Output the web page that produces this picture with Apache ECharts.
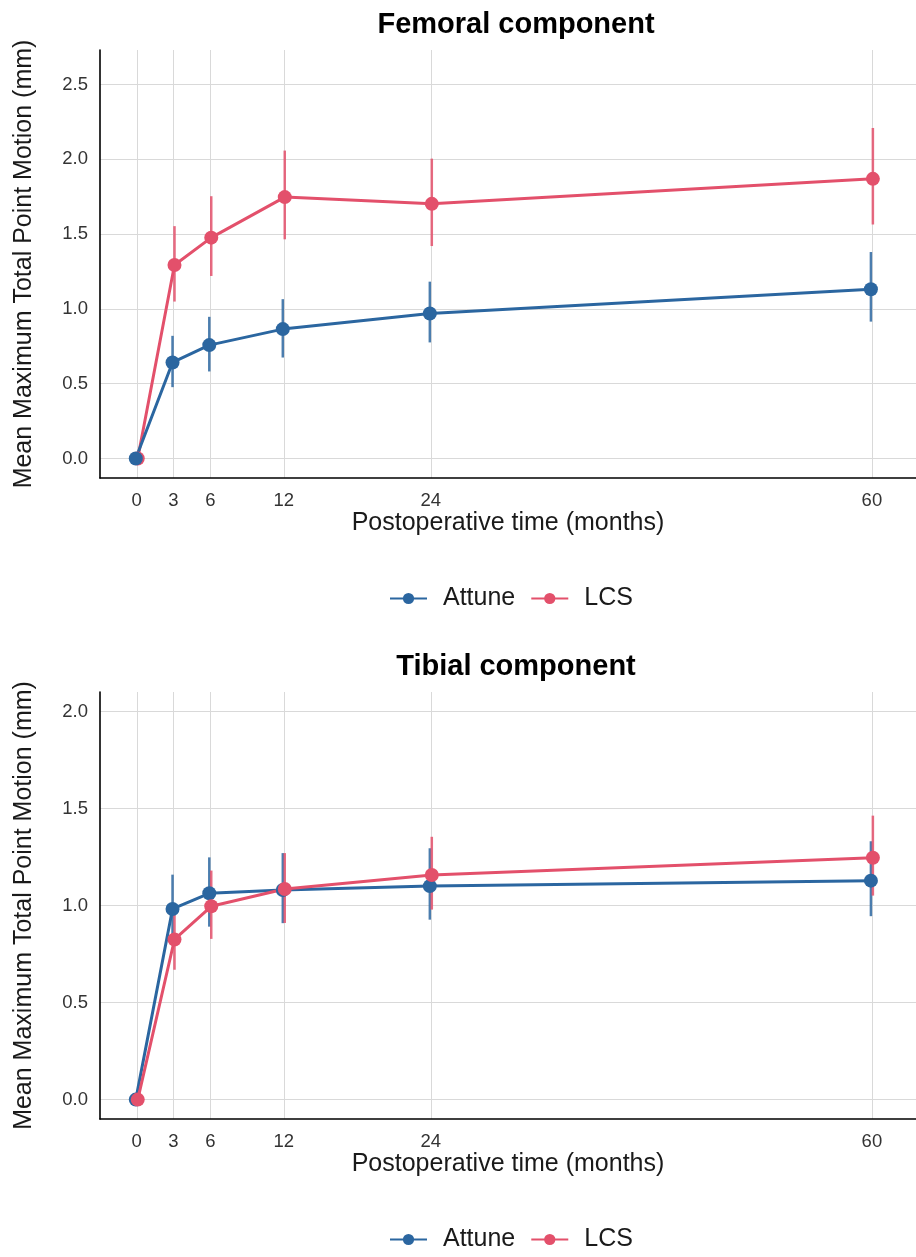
<!DOCTYPE html>
<html>
<head>
<meta charset="utf-8">
<script src="https://cdn.jsdelivr.net/npm/echarts@6/dist/echarts.min.js"></script>
<style>
html,body{margin:0;padding:0;background:#fff;}
#chart{width:916px;height:1257px;}
</style>
</head>
<body>
<div id="chart"></div>
<script>
// ---- data ----
const months = [0, 3, 6, 12, 24, 60];
const seriesNames = ['Attune', 'LCS'];
const yTicksFemoral = [0, 0.5, 1, 1.5, 2, 2.5];
const yTicksTibial = [0, 0.5, 1, 1.5, 2];

const femAttune     = [0, 0.642, 0.758, 0.865, 0.969, 1.131];
const femAttuneLow  = [0, 0.477, 0.582, 0.675, 0.776, 0.915];
const femAttuneHigh = [0, 0.820, 0.947, 1.065, 1.182, 1.380];
const femLCS        = [0, 1.293, 1.476, 1.747, 1.702, 1.869];
const femLCSLow     = [0, 1.049, 1.220, 1.465, 1.420, 1.564];
const femLCSHigh    = [0, 1.553, 1.753, 2.058, 2.004, 2.209];

const tibAttune     = [0, 0.982, 1.063, 1.080, 1.100, 1.128];
const tibAttuneLow  = [0, 0.811, 0.891, 0.909, 0.927, 0.945];
const tibAttuneHigh = [0, 1.159, 1.248, 1.270, 1.295, 1.331];
const tibLCS        = [0, 0.825, 0.996, 1.085, 1.157, 1.246];
const tibLCSLow     = [0, 0.669, 0.828, 0.910, 0.979, 1.051];
const tibLCSHigh    = [0, 0.980, 1.180, 1.270, 1.354, 1.463];

// ---- styling ----
const COLORS = {Attune: '#2b66a0', LCS: '#e3506b'};
const DODGE = {Attune: -0.08, LCS: 0.08};
const FONT = 'Liberation Sans, Arial, Helvetica, sans-serif';

function lineSeries(name, vals, gi) {
  return {
    type: 'line', name: name, xAxisIndex: gi, yAxisIndex: gi,
    data: months.map((m, i) => [m + DODGE[name], vals[i]]),
    symbol: 'circle', symbolSize: 14,
    lineStyle: {color: COLORS[name], width: 3},
    itemStyle: {color: COLORS[name]},
    z: 3
  };
}
function errSeries(name, lo, hi, gi) {
  return {
    type: 'custom', name: name + ' err', xAxisIndex: gi, yAxisIndex: gi,
    data: months.map((m, i) => [m + DODGE[name], lo[i], hi[i]]).filter(d => d[2] > d[1]),
    encode: {x: 0, y: [1, 2]},
    renderItem: function (params, api) {
      const p1 = api.coord([api.value(0), api.value(1)]);
      const p2 = api.coord([api.value(0), api.value(2)]);
      return {type: 'line', shape: {x1: p1[0], y1: p1[1], x2: p2[0], y2: p2[1]},
        style: {stroke: COLORS[name], lineWidth: 2.5, opacity: 0.85}};
    },
    z: 2
  };
}
function xAxis(gi) {
  return {
    type: 'value', gridIndex: gi, min: -3, max: 63.6,
    name: 'Postoperative time (months)', nameLocation: 'middle', nameGap: 32,
    nameTextStyle: {fontFamily: FONT, fontSize: 25, color: '#1a1a1a'},
    axisLine: {show: true, onZero: false, lineStyle: {color: '#000', width: 1.6}},
    axisTick: {show: false, customValues: months},
    axisLabel: {customValues: months, fontFamily: FONT, fontSize: 18.5, color: '#333', margin: 13},
    splitLine: {show: true, lineStyle: {color: '#d9d9d9', width: 1}}
  };
}
function yAxis(gi, ticks, min, max) {
  return {
    type: 'value', gridIndex: gi, min: min, max: max,
    name: 'Mean Maximum Total Point Motion (mm)', nameLocation: 'middle', nameGap: 63,
    nameTextStyle: {fontFamily: FONT, fontSize: 25, color: '#1a1a1a'},
    axisLine: {show: true, onZero: false, lineStyle: {color: '#000', width: 1.6}},
    axisTick: {show: false, customValues: ticks},
    axisLabel: {customValues: ticks, formatter: v => v.toFixed(1), fontFamily: FONT, fontSize: 18.5, color: '#333', margin: 12},
    splitLine: {show: true, lineStyle: {color: '#d9d9d9', width: 1}}
  };
}
function legend(top) {
  return {
    top: top, left: 384, data: seriesNames,
    itemWidth: 37, itemHeight: 14, itemGap: 15,
    textStyle: {fontFamily: FONT, fontSize: 25, color: '#1a1a1a', padding: [0, 0, 0, 11]}
  };
}

const chart = echarts.init(document.getElementById('chart'), null, {renderer: 'canvas'});
chart.setOption({
  animation: false,
  backgroundColor: '#fff',
  title: [
    {text: 'Femoral component', left: 511, top: 5, textAlign: 'center',
     textStyle: {fontFamily: FONT, fontSize: 29, fontWeight: 'bold', color: '#000'}},
    {text: 'Tibial component', left: 511, top: 647, textAlign: 'center',
     textStyle: {fontFamily: FONT, fontSize: 29, fontWeight: 'bold', color: '#000'}}
  ],
  legend: [legend(581), legend(1222)],
  grid: [
    {left: 100, top: 50, width: 816, height: 428, containLabel: false},
    {left: 100, top: 692, width: 816, height: 427, containLabel: false}
  ],
  xAxis: [xAxis(0), xAxis(1)],
  yAxis: [yAxis(0, yTicksFemoral, -0.13, 2.73), yAxis(1, yTicksTibial, -0.1, 2.1)],
  series: [
    errSeries('Attune', femAttuneLow, femAttuneHigh, 0),
    errSeries('LCS', femLCSLow, femLCSHigh, 0),
    lineSeries('LCS', femLCS, 0),
    lineSeries('Attune', femAttune, 0),
    errSeries('Attune', tibAttuneLow, tibAttuneHigh, 1),
    errSeries('LCS', tibLCSLow, tibLCSHigh, 1),
    lineSeries('Attune', tibAttune, 1),
    lineSeries('LCS', tibLCS, 1)
  ]
});
</script>
</body>
</html>
